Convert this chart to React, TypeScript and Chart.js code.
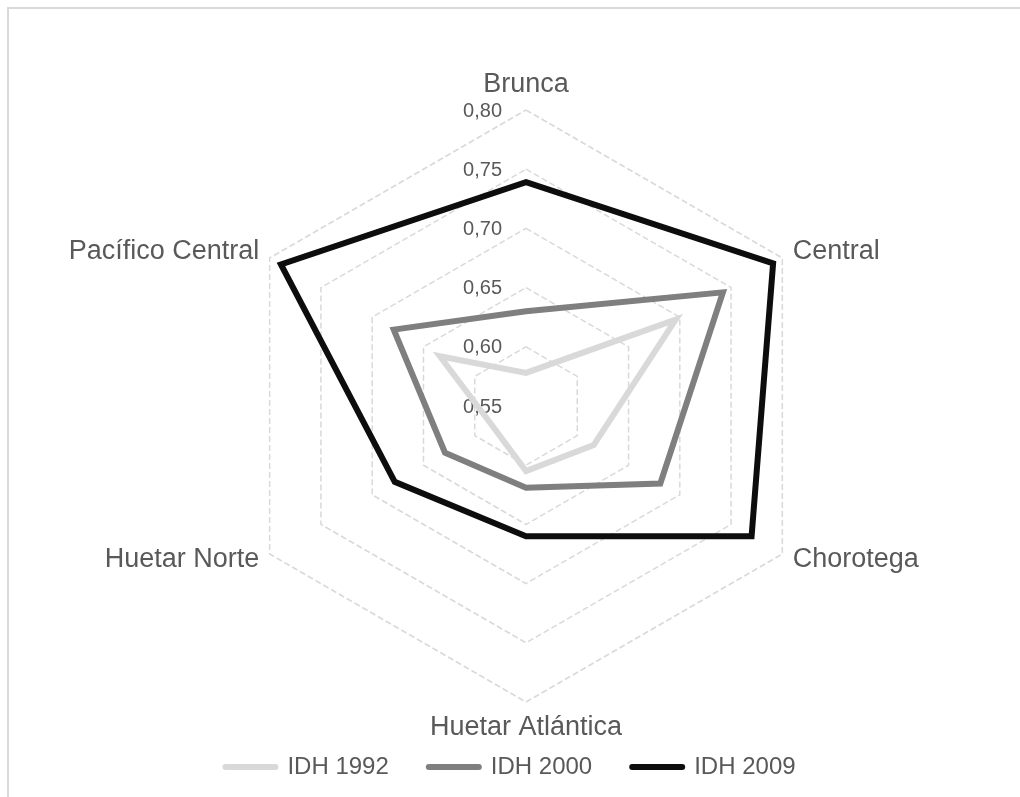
import React, { useEffect, useRef } from 'react';
import { Chart, registerables } from 'chart.js';

Chart.register(...registerables);

// Categories (axes of the radar)
const regions = ['Brunca', 'Central', 'Chorotega', 'Huetar Atlántica', 'Huetar Norte', 'Pacífico Central'];

// Series values (IDH)
const idh1992 = [0.578, 0.696, 0.616, 0.605, 0.583, 0.634];
const idh2000 = [0.63, 0.742, 0.681, 0.619, 0.629, 0.679];
const idh2009 = [0.739, 0.791, 0.77, 0.66, 0.678, 0.789];

const seriesNames = ['IDH 1992', 'IDH 2000', 'IDH 2009'];
const seriesColors = ['#d9d9d9', '#7f7f7f', '#0d0d0d'];

// Radial axis
const axisMin = 0.55;
const axisMax = 0.8;
const axisStep = 0.05;

const FONT = '"Liberation Sans", Arial, sans-serif';
const TEXT_COLOR = '#595959';

const formatTick = (v: number) => v.toFixed(2).replace('.', ',');

const excelLabels = {
  id: 'excelLabels',
  beforeDatasetsDraw(chart: any) {
    const s = chart.scales.r;
    const ctx = chart.ctx;
    ctx.save();
    ctx.fillStyle = TEXT_COLOR;
    ctx.font = `20px ${FONT}`;
    ctx.textAlign = 'right';
    ctx.textBaseline = 'middle';
    s.ticks.forEach((t: any) => {
      const d = s.getDistanceFromCenterForValue(t.value);
      ctx.fillText(formatTick(t.value), s.xCenter - 24, s.yCenter - d + 1);
    });
    ctx.restore();
  },
  afterDraw(chart: any) {
    const s = chart.scales.r;
    const ctx = chart.ctx;
    ctx.save();
    ctx.fillStyle = TEXT_COLOR;
    ctx.font = `27px ${FONT}`;
    (chart.data.labels as string[]).forEach((lbl, i) => {
      const p = s.getPointPosition(i, s.drawingArea + 12);
      const dx = p.x - s.xCenter;
      if (Math.abs(dx) < 1) {
        ctx.textAlign = 'center';
        ctx.textBaseline = p.y < s.yCenter ? 'bottom' : 'top';
      } else {
        ctx.textAlign = dx > 0 ? 'left' : 'right';
        ctx.textBaseline = 'middle';
      }
      ctx.fillText(lbl, p.x, p.y);
    });
    ctx.restore();
  },
};

export default function App() {
  const ref = useRef<HTMLCanvasElement | null>(null);

  useEffect(() => {
    if (!ref.current) return;
    const series = [idh1992, idh2000, idh2009];
    const chart = new Chart(ref.current, {
      type: 'radar',
      data: {
        labels: regions,
        datasets: series.map((vals, i) => ({
          label: seriesNames[i],
          data: vals,
          borderColor: seriesColors[i],
          backgroundColor: seriesColors[i],
          borderWidth: 6,
          borderCapStyle: 'round',
          borderJoinStyle: 'miter',
          fill: false,
          pointRadius: 0,
          pointHoverRadius: 0,
          tension: 0,
        })),
      },
      options: {
        responsive: false,
        animation: false,
        devicePixelRatio: 1,
        events: [],
        layout: { padding: { top: 101, bottom: 0, left: 0, right: 0 } },
        plugins: {
          tooltip: { enabled: false },
          legend: {
            position: 'bottom',
            labels: {
              usePointStyle: true,
              pointStyle: 'line',
              pointStyleWidth: 50,
              padding: 40,
              color: TEXT_COLOR,
              font: { size: 24, family: FONT },
              generateLabels: (c: any) =>
                Chart.defaults.plugins.legend.labels
                  .generateLabels(c)
                  .map((item: any) => ({ ...item, lineCap: 'round', lineWidth: 6 })),
            },
          },
        },
        scales: {
          r: {
            min: axisMin,
            max: axisMax,
            ticks: { display: false, stepSize: axisStep },
            pointLabels: { display: false },
            angleLines: { display: false },
            grid: { color: '#d9d9d9', lineWidth: 1.5 },
            border: { dash: [6, 3] },
            afterFit: (s: any) => {
              s.xCenter += 16;
              s.yCenter -= 6;
              s.drawingArea -= 6;
            },
          },
        },
      },
      plugins: [excelLabels],
    } as any);
    return () => chart.destroy();
  }, []);

  return (
    <div
      style={{
        position: 'fixed',
        left: 7,
        top: 7,
        width: 1040,
        height: 820,
        border: '2px solid #d9d9d9',
        background: '#fff',
      }}
    >
      <canvas ref={ref} width={1003} height={780} style={{ display: 'block' }} />
    </div>
  );
}
